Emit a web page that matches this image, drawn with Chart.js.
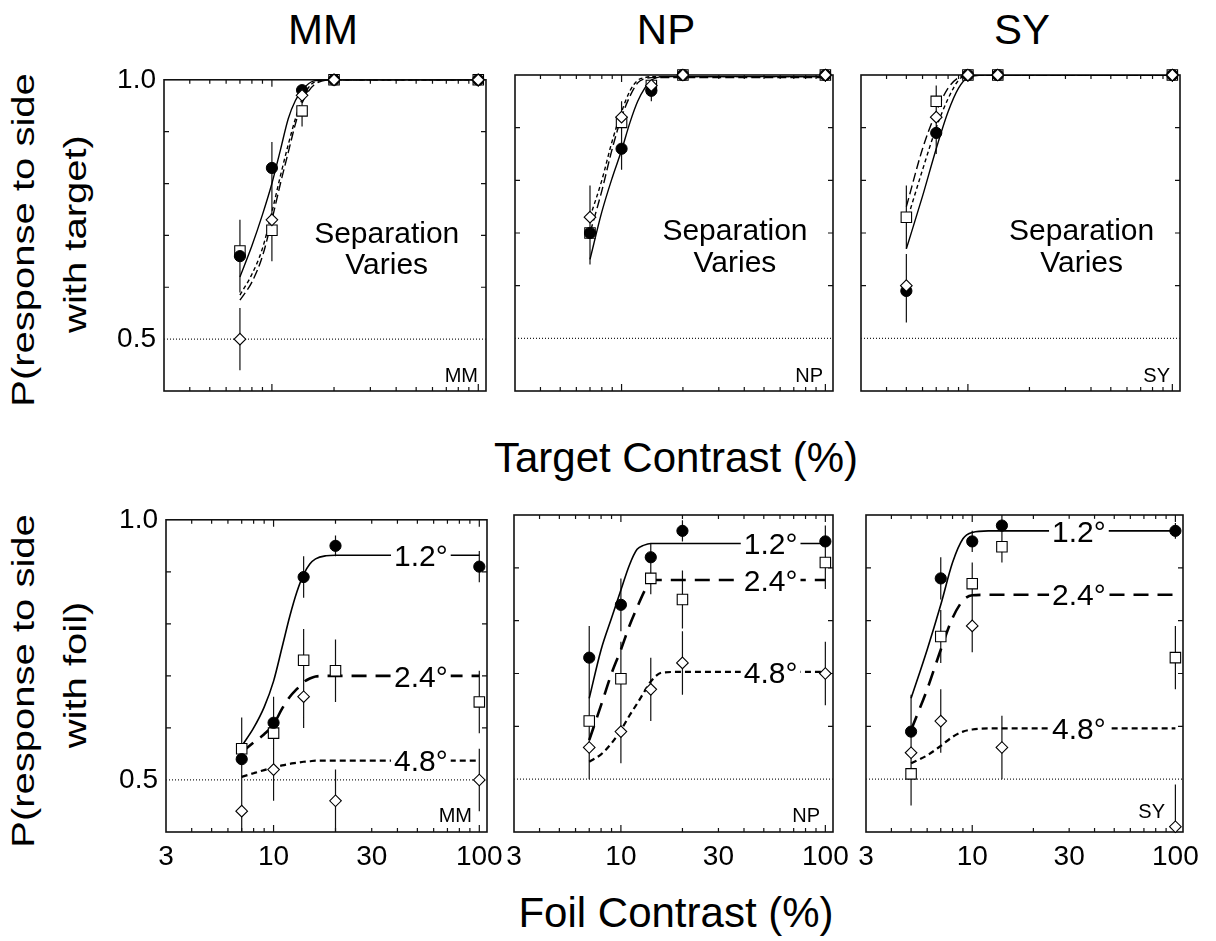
<!DOCTYPE html>
<html>
<head>
<meta charset="utf-8">
<title>Target / Foil contrast</title>
<script src="https://cdn.jsdelivr.net/npm/chart.js@4.4.1/dist/chart.umd.min.js"></script>
<style>
  html, body { margin:0; padding:0; background:#fff; }
  #page { position:relative; width:1216px; height:941px; overflow:hidden; background:#fff;
          font-family:"Liberation Sans", Arial, Helvetica, sans-serif; color:#000; }
  #page canvas { position:absolute; }
  .txt { position:absolute; white-space:nowrap; line-height:1; text-align:center; }
  .rot { position:absolute; white-space:nowrap; line-height:1; transform-origin:0 0; }
</style>
</head>
<body>
<div id="page">
  <div class="txt" style="font-size:42px; left:223px; width:200px; top:9.4px;">MM</div>
  <div class="txt" style="font-size:42px; left:566px; width:200px; top:9.4px;">NP</div>
  <div class="txt" style="font-size:42px; left:922px; width:200px; top:9.4px;">SY</div>
  <div class="txt" style="font-size:42px; left:476px; width:400px; top:437.4px;">Target Contrast (%)</div>
  <div class="txt" style="font-size:42px; left:476px; width:400px; top:892.4px;">Foil Contrast (%)</div>
  <div class="rot" style="font-size:40px; left:22.6px; top:240px; transform:rotate(-90deg) scale(1,0.77) translate(-50%,-50%);">P(response to side</div>
  <div class="rot" style="font-size:40px; left:75.3px; top:234px; transform:rotate(-90deg) scale(1,0.77) translate(-50%,-50%);">with target)</div>
  <div class="rot" style="font-size:40px; left:22.6px; top:680.5px; transform:rotate(-90deg) scale(1,0.77) translate(-50%,-50%);">P(response to side</div>
  <div class="rot" style="font-size:40px; left:75.3px; top:674.5px; transform:rotate(-90deg) scale(1,0.77) translate(-50%,-50%);">with foil)</div>
</div>
<script>
// ---------------- axes / labels ----------------
const xTickValues = [3, 10, 30, 100];
const yTickValues = [0.5, 1.0];
const xMinorTicks = [4, 5, 6, 7, 8, 9, 20, 30, 40, 50, 60, 70, 80, 90];
const xMajorTicks = [10, 100];
const yMinorTicks = [0.6, 0.7, 0.8, 0.9];
const observers = ['MM', 'NP', 'SY'];
const separationLabels = ['1.2°', '2.4°', '4.8°'];
const chanceLevel = 0.5;
const xRange = [3, 109];
const yRange = [0.4, 1.0];

// ---------------- top row: target contrast ----------------
const mmTargetX = [7, 10, 14, 20, 100];
const mmTarget12 = [0.66, 0.83, 0.98, 1.0, 1.0];
const mmTarget12Err = [0.07, 0.05, 0.01, 0, 0];
const mmTarget24 = [0.67, 0.71, 0.94, 1.0, 1.0];
const mmTarget24Err = [0.06, 0.06, 0.03, 0, 0];
const mmTarget48 = [0.50, 0.73, 0.97, 1.0, 1.0];
const mmTarget48Err = [0.06, 0.07, 0.02, 0, 0];
const mmTargetCurveX = [7, 8, 9, 10, 11, 12, 13, 14, 16, 20, 100];
const mmTargetFit12 = [0.62, 0.68, 0.74, 0.80, 0.865, 0.925, 0.96, 0.98, 0.998, 1.0, 1.0];
const mmTargetFit24 = [0.575, 0.61, 0.66, 0.73, 0.80, 0.86, 0.915, 0.955, 0.99, 1.0, 1.0];
const mmTargetFit48 = [0.585, 0.625, 0.675, 0.745, 0.815, 0.875, 0.925, 0.962, 0.995, 1.0, 1.0];

const npTargetX = [7, 10, 14, 20, 100];
const npTarget12 = [0.70, 0.86, 0.97, 1.0, 1.0];
const npTarget12Err = [0.04, 0.04, 0.02, 0, 0];
const npTarget24 = [0.70, 0.91, 0.98, 1.0, 1.0];
const npTarget24Err = [0.06, 0.04, 0.01, 0, 0];
const npTarget48 = [0.73, 0.92, 0.98, 1.0, 1.0];
const npTarget48Err = [0.06, 0.03, 0.01, 0, 0];
const npTargetCurveX = [7, 8, 9, 10, 11, 12, 13, 14, 16, 20, 100];
const npTargetFit12 = [0.65, 0.74, 0.805, 0.857, 0.91, 0.95, 0.975, 0.99, 0.997, 0.997, 0.997];
const npTargetFit24 = [0.70, 0.78, 0.86, 0.92, 0.96, 0.985, 0.993, 0.995, 0.995, 0.995, 0.995];
const npTargetFit48 = [0.73, 0.80, 0.875, 0.93, 0.97, 0.99, 0.995, 0.997, 0.997, 0.997, 0.997];

const syTargetX = [5, 7, 10, 14, 100];
const syTarget12 = [0.59, 0.89, 1.0, 1.0, 1.0];
const syTarget12Err = [0.06, 0.04, 0, 0, 0];
const syTarget24 = [0.73, 0.95, 1.0, 1.0, 1.0];
const syTarget24Err = [0.06, 0.03, 0, 0, 0];
const syTarget48 = [0.60, 0.92, 1.0, 1.0, 1.0];
const syTarget48Err = [0.06, 0.03, 0, 0, 0];
const syTargetCurveX = [5, 6, 7, 8, 9, 10, 12, 14, 100];
const syTargetFit12 = [0.67, 0.77, 0.86, 0.93, 0.975, 0.995, 1.0, 1.0, 1.0];
const syTargetFit24 = [0.75, 0.86, 0.93, 0.975, 0.995, 1.0, 1.0, 1.0, 1.0];
const syTargetFit48 = [0.72, 0.82, 0.90, 0.955, 0.99, 1.0, 1.0, 1.0, 1.0];

// ---------------- bottom row: foil contrast ----------------
const mmFoilX = [7, 10, 14, 20, 100];
const mmFoil12 = [0.54, 0.61, 0.89, 0.95, 0.91];
const mmFoil12Err = [0.04, 0.05, 0.04, 0.02, 0.03];
const mmFoil24 = [0.56, 0.59, 0.73, 0.71, 0.65];
const mmFoil24Err = [0.06, 0.07, 0.06, 0.06, 0.06];
const mmFoil48 = [0.44, 0.52, 0.66, 0.46, 0.50];
const mmFoil48Err = [0.06, 0.06, 0.06, 0.06, 0.06];
const mmFoilCurveX = [7, 8, 9, 10, 11, 12, 13, 14, 15, 16, 18, 20, 100];
const mmFoilFit12 = [0.565, 0.60, 0.64, 0.69, 0.755, 0.815, 0.862, 0.895, 0.915, 0.925, 0.931, 0.932, 0.932];
const mmFoilFit24 = [0.553, 0.572, 0.588, 0.607, 0.637, 0.66, 0.675, 0.688, 0.695, 0.699, 0.70, 0.70, 0.70];
const mmFoilFit48 = [0.506, 0.513, 0.519, 0.524, 0.528, 0.531, 0.533, 0.535, 0.536, 0.537, 0.537, 0.537, 0.537];

const npFoilX = [7, 10, 14, 20, 100];
const npFoil12 = [0.73, 0.83, 0.92, 0.97, 0.95];
const npFoil12Err = [0.06, 0.05, 0.025, 0.02, 0.03];
const npFoil24 = [0.61, 0.69, 0.88, 0.84, 0.91];
const npFoil24Err = [0.06, 0.07, 0.03, 0.055, 0.05];
const npFoil48 = [0.56, 0.59, 0.67, 0.72, 0.70];
const npFoil48Err = [0.06, 0.06, 0.06, 0.06, 0.06];
const npFoilCurveX = [7, 8, 9, 10, 11, 12, 13, 14, 16, 20, 100];
const npFoilFit12 = [0.653, 0.745, 0.805, 0.858, 0.905, 0.935, 0.943, 0.946, 0.946, 0.946, 0.946];
const npFoilFit24 = [0.574, 0.64, 0.70, 0.745, 0.79, 0.825, 0.855, 0.877, 0.877, 0.877, 0.877];
const npFoilFit48 = [0.533, 0.547, 0.568, 0.593, 0.62, 0.643, 0.665, 0.685, 0.702, 0.703, 0.703];

const syFoilX = [5, 7, 10, 14, 100];
const syFoil12 = [0.59, 0.88, 0.95, 0.98, 0.97];
const syFoil12Err = [0.07, 0.04, 0.02, 0.02, 0.015];
const syFoil24 = [0.51, 0.77, 0.87, 0.94, 0.73];
const syFoil24Err = [0.06, 0.05, 0.04, 0.03, 0.06];
const syFoil48 = [0.55, 0.61, 0.79, 0.56, 0.41];
const syFoil48Err = [0.05, 0.06, 0.05, 0.06, 0.08];
const syFoilCurveX = [5, 6, 7, 8, 9, 10, 12, 14, 100];
const syFoilFit12 = [0.653, 0.745, 0.83, 0.91, 0.955, 0.967, 0.97, 0.97, 0.97];
const syFoilFit24 = [0.593, 0.67, 0.745, 0.805, 0.838, 0.848, 0.849, 0.849, 0.849];
const syFoilFit48 = [0.53, 0.545, 0.563, 0.58, 0.59, 0.594, 0.596, 0.596, 0.596];

// x position (foil contrast) of the separation labels on each bottom panel
const foilLabelX = [52, 54, 33.5];
// "Separation Varies" note position (data coordinates)
const noteText = ['Separation', 'Varies'];
const noteX = 36;
const noteY = [0.686, 0.626];

// ---------------- rendering ----------------
const FONT = '"Liberation Sans", Arial, Helvetica, sans-serif';
const page = document.getElementById('page');
const pts = (xs, ys) => xs.map((x, i) => ({ x: x, y: ys[i] }));

function makeDeco(cfg) {
  return {
    id: 'deco',
    beforeDatasetsDraw(chart) {
      const { ctx, chartArea: a, scales } = chart;
      const x = scales.x, y = scales.y;
      ctx.save();
      ctx.strokeStyle = '#111';
      ctx.lineWidth = 1.2;
      ctx.beginPath();
      xMinorTicks.forEach(v => {
        const px = x.getPixelForValue(v);
        ctx.moveTo(px, a.bottom); ctx.lineTo(px, a.bottom - 4);
        ctx.moveTo(px, a.top); ctx.lineTo(px, a.top + 4);
      });
      xMajorTicks.forEach(v => {
        const px = x.getPixelForValue(v);
        ctx.moveTo(px, a.bottom); ctx.lineTo(px, a.bottom - 7);
        ctx.moveTo(px, a.top); ctx.lineTo(px, a.top + 7);
      });
      yMinorTicks.forEach(v => {
        const py = y.getPixelForValue(v);
        ctx.moveTo(a.left, py); ctx.lineTo(a.left + 5, py);
        ctx.moveTo(a.right, py); ctx.lineTo(a.right - 5, py);
      });
      ctx.stroke();
      // error bars
      ctx.beginPath();
      ctx.rect(a.left, a.top, a.right - a.left, a.bottom - a.top);
      ctx.clip();
      ctx.lineWidth = 1.2;
      ctx.beginPath();
      cfg.errors.forEach(s => {
        s.y.forEach((v, i) => {
          const e = s.err[i];
          if (!e) return;
          const px = x.getPixelForValue(s.x[i]);
          ctx.moveTo(px, y.getPixelForValue(v - e));
          ctx.lineTo(px, y.getPixelForValue(v + e));
        });
      });
      ctx.stroke();
      ctx.restore();
      // frame
      ctx.save();
      ctx.strokeStyle = '#111';
      ctx.lineWidth = 1.6;
      ctx.strokeRect(a.left, a.top, a.right - a.left, a.bottom - a.top);
      ctx.restore();
    },
    afterDatasetsDraw(chart) {
      const { ctx, chartArea: a, scales } = chart;
      const x = scales.x, y = scales.y;
      ctx.save();
      ctx.fillStyle = '#000';
      // corner observer tag
      ctx.font = '20px ' + FONT;
      ctx.textAlign = 'right';
      ctx.textBaseline = 'alphabetic';
      ctx.fillText(cfg.tag, a.right - cfg.tagDx, a.bottom - cfg.tagDy);
      // separation labels on curves
      if (cfg.labels) {
        ctx.font = '30px ' + FONT;
        ctx.textAlign = 'center';
        cfg.labels.forEach(l => {
          const px = x.getPixelForValue(l.x), py = y.getPixelForValue(l.y);
          const w = ctx.measureText(l.text).width;
          ctx.fillStyle = '#fff';
          ctx.fillRect(px - w / 2 - 3, py - 12, w + 6, 24);
          ctx.fillStyle = '#000';
          ctx.fillText(l.text, px, py + 10.7);
        });
      }
      if (cfg.note) {
        ctx.font = '30px ' + FONT;
        ctx.textAlign = 'center';
        ctx.fillStyle = '#000';
        noteText.forEach((t, i) => {
          ctx.fillText(t, x.getPixelForValue(noteX), y.getPixelForValue(noteY[i]));
        });
      }
      ctx.restore();
    }
  };
}

function makePanel(frame, p) {
  const W = frame.r - frame.l + 105, H = frame.b - frame.t + 65;
  const cv = document.createElement('canvas');
  cv.width = W; cv.height = H;
  cv.style.left = (frame.l - 70) + 'px';
  cv.style.top = (frame.t - 20) + 'px';
  cv.style.width = W + 'px';
  cv.style.height = H + 'px';
  page.appendChild(cv);

  const bottom = p.bottomRow;
  const w12 = bottom ? 1.6 : 1.4, w24 = bottom ? 2.6 : 1.4, w48 = bottom ? 2.2 : 1.4;
  const d24 = bottom ? [15, 9] : [9, 4], d48 = bottom ? [6, 4] : [4, 3];

  const datasets = [
    { label: separationLabels[2], data: pts(p.x, p.s48), showLine: false, pointStyle: 'rectRot',
      pointRadius: 5.8, pointBackgroundColor: '#fff', pointBorderColor: '#000', pointBorderWidth: 1.1,
      clip: false, order: 1 },
    { label: separationLabels[0], data: pts(p.x, p.s12), showLine: false, pointStyle: 'circle',
      pointRadius: 5.6, pointBackgroundColor: '#000', pointBorderColor: '#000', pointBorderWidth: 1,
      clip: false, order: 2 },
    { label: separationLabels[1], data: pts(p.x, p.s24), showLine: false, pointStyle: 'rect',
      pointRadius: 7.4, pointBackgroundColor: '#fff', pointBorderColor: '#000', pointBorderWidth: 1.1,
      clip: false, order: 3 },
    { label: 'fit ' + separationLabels[0], data: pts(p.cx, p.f12), borderColor: '#000', borderWidth: w12,
      pointRadius: 0, fill: false, cubicInterpolationMode: 'monotone', order: 4 },
    { label: 'fit ' + separationLabels[1], data: pts(p.cx, p.f24), borderColor: '#000', borderWidth: w24,
      borderDash: d24, pointRadius: 0, fill: false, cubicInterpolationMode: 'monotone', order: 5 },
    { label: 'fit ' + separationLabels[2], data: pts(p.cx, p.f48), borderColor: '#000', borderWidth: w48,
      borderDash: d48, pointRadius: 0, fill: false, cubicInterpolationMode: 'monotone', order: 6 },
    { label: 'chance', data: [{ x: xRange[0], y: chanceLevel }, { x: xRange[1], y: chanceLevel }],
      borderColor: '#222', borderWidth: 1.2, borderDash: [1, 2], pointRadius: 0, fill: false, order: 7 }
  ];

  const cfg = {
    tag: p.tag, tagDx: p.tagDx, tagDy: p.tagDy, note: !bottom,
    errors: [
      { x: p.x, y: p.s12, err: p.e12 },
      { x: p.x, y: p.s24, err: p.e24 },
      { x: p.x, y: p.s48, err: p.e48 }
    ],
    labels: bottom ? [
      { text: separationLabels[0], x: p.labelX, y: p.f12[p.f12.length - 1] },
      { text: separationLabels[1], x: p.labelX, y: p.f24[p.f24.length - 1] },
      { text: separationLabels[2], x: p.labelX, y: p.f48[p.f48.length - 1] }
    ] : null
  };

  new Chart(cv, {
    type: 'line',
    data: { datasets: datasets },
    options: {
      responsive: false,
      animation: false,
      devicePixelRatio: 1,
      events: [],
      layout: { padding: { left: 0, top: 20, right: 35, bottom: 0 } },
      plugins: { legend: { display: false }, tooltip: { enabled: false } },
      scales: {
        x: {
          type: 'logarithmic', min: xRange[0], max: xRange[1],
          afterBuildTicks: s => { s.ticks = xTickValues.map(v => ({ value: v })); },
          afterFit: s => { s.height = 45; },
          grid: { display: false, drawTicks: false },
          border: { display: false },
          ticks: { display: bottom, padding: 8, autoSkip: false, maxRotation: 0, minRotation: 0,
                   color: '#000', font: { family: FONT, size: 28 }, callback: v => String(v) }
        },
        y: {
          type: 'linear', min: yRange[0], max: yRange[1],
          afterBuildTicks: s => { s.ticks = yTickValues.map(v => ({ value: v })); },
          afterFit: s => { s.width = 70; },
          grid: { display: false, drawTicks: false },
          border: { display: false },
          ticks: { display: p.showY, padding: 8, color: '#000', font: { family: FONT, size: 28 },
                   callback: v => Number(v).toFixed(1) }
        }
      }
    },
    plugins: [makeDeco(cfg)]
  });
}

const panels = [
  { frame: { l: 164, t: 75, r: 486, b: 391 }, tag: observers[0], tagDx: 8, tagDy: 9.5, showY: true, bottomRow: false,
    x: mmTargetX, s12: mmTarget12, e12: mmTarget12Err, s24: mmTarget24, e24: mmTarget24Err, s48: mmTarget48, e48: mmTarget48Err,
    cx: mmTargetCurveX, f12: mmTargetFit12, f24: mmTargetFit24, f48: mmTargetFit48 },
  { frame: { l: 515, t: 75, r: 833, b: 391 }, tag: observers[1], tagDx: 10, tagDy: 9.5, showY: false, bottomRow: false,
    x: npTargetX, s12: npTarget12, e12: npTarget12Err, s24: npTarget24, e24: npTarget24Err, s48: npTarget48, e48: npTarget48Err,
    cx: npTargetCurveX, f12: npTargetFit12, f24: npTargetFit24, f48: npTargetFit48 },
  { frame: { l: 861, t: 75, r: 1180, b: 391 }, tag: observers[2], tagDx: 10, tagDy: 9.5, showY: false, bottomRow: false,
    x: syTargetX, s12: syTarget12, e12: syTarget12Err, s24: syTarget24, e24: syTarget24Err, s48: syTarget48, e48: syTarget48Err,
    cx: syTargetCurveX, f12: syTargetFit12, f24: syTargetFit24, f48: syTargetFit48 },
  { frame: { l: 166, t: 515, r: 487, b: 832 }, tag: observers[0], tagDx: 15, tagDy: 10.3, showY: true, bottomRow: true, labelX: foilLabelX[0],
    x: mmFoilX, s12: mmFoil12, e12: mmFoil12Err, s24: mmFoil24, e24: mmFoil24Err, s48: mmFoil48, e48: mmFoil48Err,
    cx: mmFoilCurveX, f12: mmFoilFit12, f24: mmFoilFit24, f48: mmFoilFit48 },
  { frame: { l: 514, t: 515, r: 833, b: 832 }, tag: observers[1], tagDx: 13, tagDy: 10.3, showY: false, bottomRow: true, labelX: foilLabelX[1],
    x: npFoilX, s12: npFoil12, e12: npFoil12Err, s24: npFoil24, e24: npFoil24Err, s48: npFoil48, e48: npFoil48Err,
    cx: npFoilCurveX, f12: npFoilFit12, f24: npFoilFit24, f48: npFoilFit48 },
  { frame: { l: 866, t: 515, r: 1183, b: 832 }, tag: observers[2], tagDx: 18, tagDy: 14, showY: false, bottomRow: true, labelX: foilLabelX[2],
    x: syFoilX, s12: syFoil12, e12: syFoil12Err, s24: syFoil24, e24: syFoil24Err, s48: syFoil48, e48: syFoil48Err,
    cx: syFoilCurveX, f12: syFoilFit12, f24: syFoilFit24, f48: syFoilFit48 }
];

panels.forEach(p => makePanel(p.frame, p));
</script>
</body>
</html>
